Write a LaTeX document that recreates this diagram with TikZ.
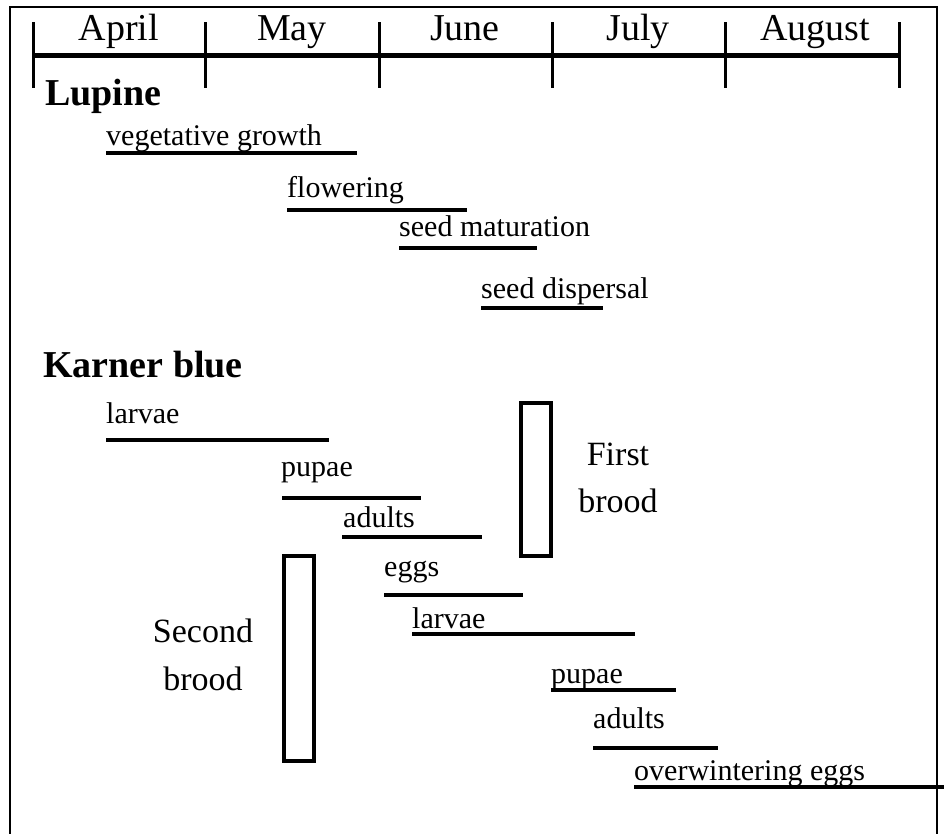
\documentclass[tikz,border=0pt]{standalone}
\usepackage{fontspec}
\setmainfont{Liberation Serif}
\begin{document}
\begin{tikzpicture}[x=1pt,y=-1pt,
  month/.style={font=\fontsize{38}{40}\selectfont, anchor=base, inner sep=0pt},
  head/.style={font=\fontsize{38}{40}\selectfont\bfseries, anchor=base west, inner sep=0pt},
  item/.style={font=\fontsize{30}{34}\selectfont, anchor=base west, inner sep=0pt},
  brood/.style={font=\fontsize{34}{48}\selectfont, align=center, inner sep=0pt},
  bar/.style={line width=3.8pt},
  tick/.style={line width=3pt},
  axis/.style={line width=5pt},
  box/.style={line width=3.2pt},
  frame/.style={line width=2pt}]
\useasboundingbox (0,0) rectangle (944,833);
% frame (open at bottom)
\draw[frame] (10,840) -- (10,7) -- (937,7) -- (937,840);
% timeline
\coordinate (t0) at (33,55);
\coordinate (t5) at (899,55);
\draw[axis] (t0) -- (t5);
\foreach \x [count=\i] in {33,205,379,552,725,899}{
  \coordinate (k\i) at (\x,22);
  \draw[tick] (k\i) -- ++(0,66);
}
\node[month] (apr) at (119,40) {April};
\node[month] (may) at (292,40) {May};
\node[month] (jun) at (465,40) {June};
\node[month] (jul) at (638,40) {July};
\node[month] (aug) at (815,40) {August};
% Lupine
\node[head] (lupine) at (45,105) {Lupine};
\node[item] (veg) at (106,145) {vegetative growth};
\draw[bar] (106,153) -- (357,153);
\node[item] (flow) at (287,197) {flowering};
\draw[bar] (287,210) -- (467,210);
\node[item] (smat) at (399,236) {seed maturation};
\draw[bar] (399,248) -- (537,248);
\node[item] (sdis) at (481,298) {seed dispersal};
\draw[bar] (481,308) -- (603,308);
% Karner blue
\node[head] (karner) at (43,377) {Karner blue};
\node[item] (lar1) at (106,423) {larvae};
\draw[bar] (106,440) -- (329,440);
\node[item] (pup1) at (281,476) {pupae};
\draw[bar] (282,498) -- (421,498);
\node[item] (adu1) at (343,527) {adults};
\draw[bar] (342,537) -- (482,537);
\node[item] (egg1) at (384,576) {eggs};
\draw[bar] (384,595) -- (523,595);
\node[item] (lar2) at (412,628) {larvae};
\draw[bar] (412,634) -- (635,634);
\node[item] (pup2) at (551,683) {pupae};
\draw[bar] (551,690) -- (676,690);
\node[item] (adu2) at (593,728) {adults};
\draw[bar] (593,748) -- (718,748);
\node[item] (owe) at (634,780) {overwintering eggs};
\draw[bar] (634,787) -- (944,787);
% broods
\draw[box] (521,403) rectangle (551,556);
\node[brood, anchor=base] (first) at (618,465) {First};
\node[brood, anchor=base] (firstb) at (618,512) {brood};
\draw[box] (284,556) rectangle (314,761);
\node[brood, anchor=base] (second) at (203,642) {Second};
\node[brood, anchor=base] (secondb) at (203,690) {brood};
\end{tikzpicture}
\end{document}
